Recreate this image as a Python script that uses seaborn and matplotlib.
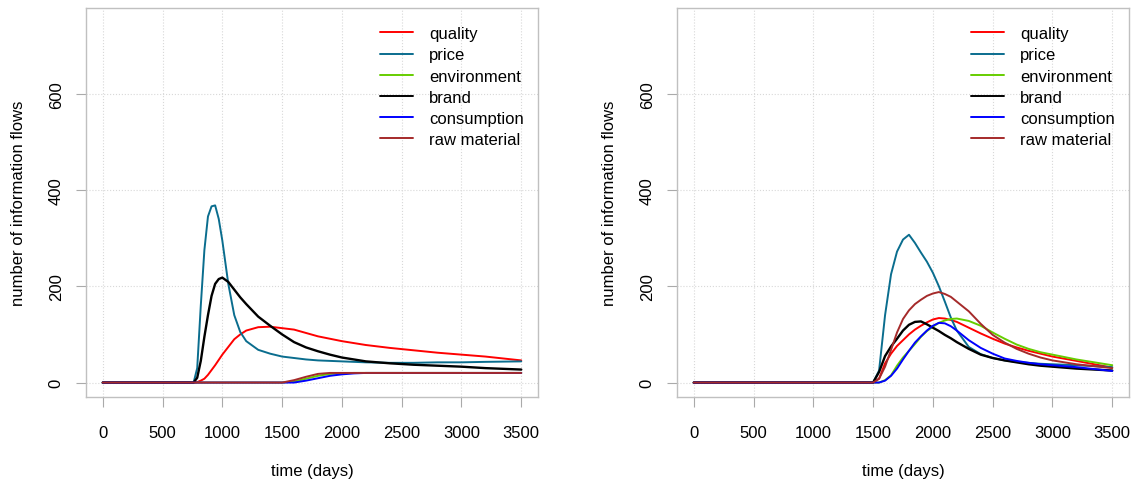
import numpy as np
import pandas as pd
import matplotlib
matplotlib.use("Agg")
import matplotlib.pyplot as plt
import seaborn as sns

sns.set_style("white")
plt.rcParams['font.family'] = ['Liberation Sans', 'DejaVu Sans']
plt.rcParams['text.color'] = 'black'
plt.rcParams['axes.labelcolor'] = 'black'

SERIES = ['quality', 'price', 'environment', 'brand', 'consumption', 'raw material']
COLORS = ['#ff0000', '#0a6d8e', '#66cd00', '#000000', '#0000ff', '#a52a2a']

left_days = [0, 760, 790, 820, 850, 880, 910, 940, 970, 1000, 1050, 1100, 1150, 1200,
             1300, 1400, 1500, 1600, 1700, 1800, 1900, 2000, 2100, 2200, 2400, 2600,
             2800, 3000, 3200, 3500]
left_quality = [0, 0, 1, 4, 8, 16, 26, 36, 47, 58, 74, 90, 100, 108,
                115, 116, 113, 110, 103, 96, 91, 86, 82, 78, 72, 67,
                62, 58, 54, 46]
left_price = [0, 0, 30, 160, 275, 345, 366, 368, 340, 295, 205, 140, 105, 86,
              68, 60, 54, 51, 48, 46, 45, 44, 43, 42, 41, 41,
              42, 42, 43, 44]
left_environment = [0, 0, 0, 0, 0, 0, 0, 0, 0, 0, 0, 0, 0, 0,
                    0, 0, 0, 2, 8, 14, 18, 19, 20, 20, 20, 20,
                    20, 20, 20, 20]
left_brand = [0, 0, 10, 45, 95, 140, 180, 205, 215, 218, 209, 193, 177, 163,
              137, 118, 100, 84, 73, 65, 58, 52, 48, 44, 40, 37,
              35, 33, 30, 27]
left_consumption = [0, 0, 0, 0, 0, 0, 0, 0, 0, 0, 0, 0, 0, 0,
                    0, 0, 0, 0, 4, 9, 14, 17, 19, 20, 20, 20,
                    20, 20, 20, 20]
left_raw = [0, 0, 0, 0, 0, 0, 0, 0, 0, 0, 0, 0, 0, 0,
            0, 0, 0, 5, 12, 18, 20, 20, 20, 20, 20, 20,
            20, 20, 20, 20]

# right panel
right_days = [0, 1500, 1550, 1600, 1650, 1700, 1750, 1800, 1850, 1900, 1950, 2000,
              2050, 2100, 2150, 2200, 2300, 2400, 2500, 2600, 2700, 2800, 2900,
              3000, 3200, 3500]
right_quality = [0, 0, 8, 40, 60, 76, 88, 100, 110, 118, 125, 131,
                 134, 133, 130, 126, 114, 102, 91, 81, 73, 66, 60,
                 54, 45, 31]
right_price = [0, 0, 25, 140, 225, 272, 297, 307, 290, 270, 251, 228,
               200, 168, 135, 108, 74, 59, 51, 46, 43, 41, 39,
               38, 36, 32]
right_environment = [0, 0, 0, 5, 15, 35, 52, 66, 80, 95, 107, 116,
                     124, 129, 132, 133, 128, 118, 104, 91, 79, 70, 63,
                     58, 48, 36]
right_brand = [0, 0, 22, 55, 75, 91, 108, 120, 126, 127, 121, 114,
               107, 99, 92, 84, 70, 58, 51, 46, 42, 38, 35,
               33, 29, 25]
right_consumption = [0, 0, 0, 4, 14, 29, 48, 66, 83, 96, 108, 118,
                     124, 123, 117, 108, 88, 72, 60, 50, 45, 41, 38,
                     36, 32, 24]
right_raw = [0, 0, 8, 33, 68, 104, 132, 150, 163, 172, 180, 185,
             188, 184, 178, 168, 148, 122, 99, 83, 70, 60, 52,
             46, 38, 30]

x_ticks = [0, 500, 1000, 1500, 2000, 2500, 3000, 3500]
y_ticks = [0, 200, 400, 600]


def to_long(days, cols):
    df = pd.DataFrame({'day': days})
    for name, vals in zip(SERIES, cols):
        df[name] = vals
    return df.melt(id_vars='day', var_name='series', value_name='flows')


def draw_panel(ax, df):
    sns.lineplot(data=df, x='day', y='flows', hue='series', hue_order=SERIES,
                 palette=dict(zip(SERIES, COLORS)), linewidth=1.4, ax=ax,
                 legend=False, estimator=None, sort=False)
    for line in ax.get_lines():
        if line.get_color() in ('#000000', 'k'):
            line.set_linewidth(1.7)
    ax.set_xlim(-140, 3640)
    ax.set_ylim(-30, 778)
    ax.set_xticks(x_ticks)
    ax.set_yticks(y_ticks)
    ax.set_yticklabels([str(v) for v in y_ticks], rotation=90, va='center')
    ax.grid(True, linestyle=':', color='#d8d8d8', linewidth=0.8)
    for sp in ax.spines.values():
        sp.set_color('#c0c0c0')
        sp.set_linewidth(1.0)
    ax.tick_params(axis='both', which='major', direction='out', length=7,
                   width=0.8, color='#aaaaaa', labelsize=12, labelcolor='black')
    ax.tick_params(axis='x', pad=13)
    ax.tick_params(axis='y', pad=9, left=True)
    ax.tick_params(axis='x', bottom=True)
    ax.set_xlabel('time (days)', fontsize=12, color='black')
    ax.set_ylabel('number of information flows', fontsize=12, color='black')
    ax.xaxis.set_label_coords(0.5, -0.19)
    ax.xaxis.label.set_va('center')
    ax.yaxis.set_label_coords(-0.150, 0.5)
    ax.yaxis.label.set_va('center')
    handles = [plt.Line2D([], [], color=c, linewidth=1.4) for c in COLORS]
    leg = ax.legend(handles, SERIES, loc='upper left', bbox_to_anchor=(0.650, 0.953),
                    frameon=False, fontsize=12, handlelength=2.0, handletextpad=0.95,
                    labelspacing=0.37, borderpad=0, borderaxespad=0)
    for t in leg.get_texts():
        t.set_color('black')


fig = plt.figure(figsize=(11.4, 4.89), dpi=100)
ax1 = fig.add_axes([86 / 1140, 1 - 398 / 489, 452 / 1140, 389 / 489])
ax2 = fig.add_axes([677 / 1140, 1 - 398 / 489, 452 / 1140, 389 / 489])

draw_panel(ax1, to_long(left_days, [left_quality, left_price, left_environment,
                                    left_brand, left_consumption, left_raw]))
draw_panel(ax2, to_long(right_days, [right_quality, right_price, right_environment,
                                     right_brand, right_consumption, right_raw]))

fig.savefig('out.png', dpi=100, facecolor='white')
